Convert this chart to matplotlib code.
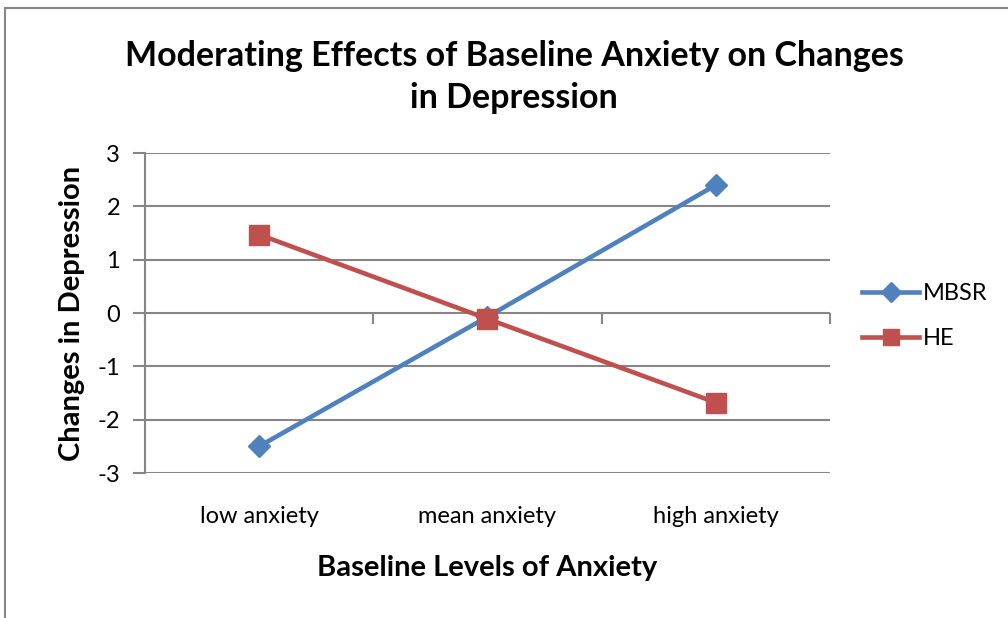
import matplotlib.pyplot as plt
from matplotlib.lines import Line2D
from matplotlib.patches import Rectangle

plt.rcParams['font.family'] = ['Lato', 'DejaVu Sans']

CATEGORIES = ['low anxiety', 'mean anxiety', 'high anxiety']
MBSR = [-2.5, -0.07, 2.4]
HE = [1.47, -0.11, -1.68]
Y_TICKS = [-3, -2, -1, 0, 1, 2, 3]

BLUE = '#4F81BD'
RED = '#C0504D'
GRID = '#868686'

fig = plt.figure(figsize=(10.08, 6.18), dpi=100)
ax = fig.add_axes([145 / 1008, 145 / 618, 685 / 1008, 320 / 618])

x = list(range(len(CATEGORIES)))
ax.plot(x, MBSR, color=BLUE, lw=3.3, marker='D', ms=11.5, mec=BLUE, zorder=3)
ax.plot(x, HE, color=RED, lw=3.3, marker='s', ms=14, mec=RED, zorder=4)

ax.set_xlim(-0.5, len(CATEGORIES) - 0.5)
ax.set_ylim(Y_TICKS[0], Y_TICKS[-1])
ax.set_yticks(Y_TICKS)
ax.set_yticklabels([str(v) for v in Y_TICKS])
ax.set_xticks(x)
ax.set_xticklabels(CATEGORIES)
ax.tick_params(axis='x', length=0, pad=24, labelsize=17)
ax.tick_params(axis='y', length=9, width=1.5, color=GRID, pad=9, labelsize=17)
ax.yaxis.grid(True, color=GRID, lw=1.5)
ax.set_axisbelow(True)

for side in ['top', 'right', 'bottom']:
    ax.spines[side].set_visible(False)
ax.spines['left'].set_color(GRID)
ax.spines['left'].set_linewidth(1.5)

# category axis crosses at zero, tick marks between categories hang below it
zero_axis = ax.secondary_xaxis(0.5)
zero_axis.set_xticks([i - 0.5 for i in range(len(CATEGORIES) + 1)])
zero_axis.set_xticklabels([])
zero_axis.tick_params(length=8, width=1.5, color=GRID, direction='in')
for side in zero_axis.spines:
    zero_axis.spines[side].set_visible(False)

ax.set_xlabel('Baseline Levels of Anxiety', fontsize=21, fontweight='bold', labelpad=20)
ax.set_ylabel('Changes in Depression', fontsize=21, fontweight='bold', labelpad=9)

fig.text(514 / 1008, 1 - 77 / 618,
         'Moderating Effects of Baseline Anxiety on Changes\nin Depression',
         ha='center', va='center', fontsize=24.5, fontweight='bold', linespacing=1.4)

handles = [Line2D([], [], color=BLUE, lw=3.3, marker='D', ms=10),
           Line2D([], [], color=RED, lw=3.3, marker='s', ms=12)]
fig.legend(handles, ['MBSR', 'HE'], loc='center left',
           bbox_to_anchor=(841 / 1008, 1 - 316 / 618), frameon=False,
           fontsize=17, handlelength=2.4, handletextpad=0.15, labelspacing=1.0)

# chart border
fig.add_artist(Rectangle((5 / 1008, -0.1), 1.1, 1.1 - 8 / 618, transform=fig.transFigure,
                         fill=False, edgecolor=GRID, lw=1.5))

fig.savefig('out.png', dpi=100)
